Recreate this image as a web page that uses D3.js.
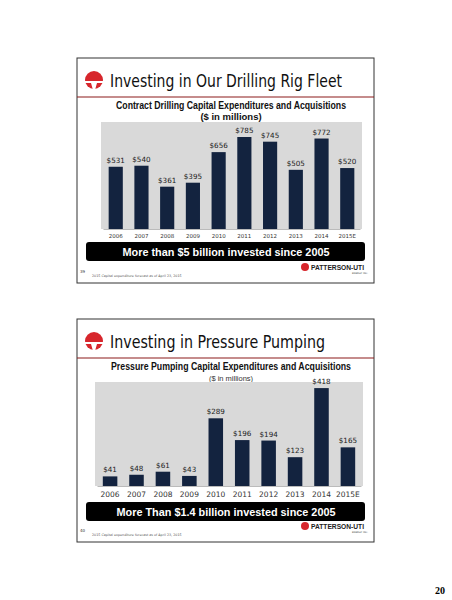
<!DOCTYPE html>
<html><head><meta charset="utf-8">
<script src="https://cdn.jsdelivr.net/npm/d3@7"></script>
<style>body{margin:0;background:#fff}</style>
</head><body>
<svg id="page" width="452" height="600"></svg>
<script>
const years = ['2006','2007','2008','2009','2010','2011','2012','2013','2014','2015E'];
const drillingValues = [531, 540, 361, 395, 656, 785, 745, 505, 772, 520];
const pumpingValues = [41, 48, 61, 43, 289, 196, 194, 123, 418, 165];

const svg = d3.select('#page');
const navy = '#13233f';

function fit(sel, len) {
    return sel.attr('textLength', len).attr('lengthAdjust', 'spacingAndGlyphs');
}

function slide(cfg) {
    const g = svg.append('g');
    g.append('rect').attr('x', 77).attr('y', cfg.top).attr('width', 297).attr('height', cfg.h)
        .attr('fill', '#fff').attr('stroke', '#333').attr('stroke-width', 1);
    // logo
    const lx = 94, ly = cfg.top + 22;
    g.append('circle').attr('cx', lx).attr('cy', ly).attr('r', 9).attr('fill', '#d7262c');
    g.append('path').attr('d', `M${lx-9},${ly+1}h18v2h-6l-2,7h-2l-2,-7h-6z`).attr('fill', '#fff');
    fit(g.append('text').attr('x', 110).attr('y', ly + 7).attr('font-family', 'DejaVu Sans Condensed, sans-serif')
        .attr('font-size', 18).attr('fill', '#111').text(cfg.title), cfg.titleLen);
    g.append('line').attr('x1', 77).attr('x2', 374).attr('y1', cfg.top + 39).attr('y2', cfg.top + 39)
        .attr('stroke', '#8b1a1a').attr('stroke-width', 1.2);
    fit(g.append('text').attr('x', 231).attr('y', cfg.top + 51).attr('text-anchor', 'middle')
        .attr('font-family', 'Liberation Sans, sans-serif').attr('font-weight', 'bold')
        .attr('font-size', 10).attr('fill', '#111').text(cfg.chartTitle), cfg.chartLen);
    g.append('text').attr('x', 231).attr('y', cfg.top + 62).attr('text-anchor', 'middle')
        .attr('font-family', 'Liberation Sans, sans-serif').attr('font-weight', cfg.subBold ? 'bold' : 'normal')
        .attr('font-size', cfg.subBold ? 9.5 : 7.5).attr('fill', cfg.subBold ? '#111' : '#333').text('($ in millions)');

    const p = cfg.plot;
    g.append('rect').attr('x', p.x0).attr('y', p.y0).attr('width', p.x1 - p.x0).attr('height', p.y1 - p.y0)
        .attr('fill', '#d9d9d9');
    const x = d3.scaleBand().domain(years).range([p.x0 + 2, p.x1 - 2]).paddingInner(0.45).paddingOuter(0.22);
    const y = d3.scaleLinear().domain([0, cfg.ymax]).range([p.y1, p.y0]);
    const data = years.map((yr, i) => ({yr, v: cfg.values[i]}));
    g.selectAll('.bar').data(data).join('rect')
        .attr('x', d => x(d.yr)).attr('width', x.bandwidth())
        .attr('y', d => y(d.v)).attr('height', d => y(0) - y(d.v)).attr('fill', navy);
    g.selectAll('.lbl').data(data).join('text')
        .attr('x', d => x(d.yr) + x.bandwidth() / 2).attr('y', d => y(d.v) - 4)
        .attr('text-anchor', 'middle').attr('font-family', 'DejaVu Sans, sans-serif')
        .attr('font-size', 7.2).attr('fill', '#222').text(d => '$' + d.v);
    const ax = g.append('g').attr('transform', `translate(0,${p.y1})`)
        .call(d3.axisBottom(x).tickSize(0).tickPadding(cfg.tickPad));
    ax.select('.domain').attr('stroke', '#bbb');
    ax.selectAll('text').attr('font-family', 'DejaVu Sans, sans-serif').attr('font-size', cfg.tickSize).attr('fill', '#333');

    const b = cfg.banner;
    g.append('rect').attr('x', 86).attr('y', b).attr('width', 279).attr('height', 19).attr('rx', 3).attr('fill', '#000');
    fit(g.append('text').attr('x', 226).attr('y', b + 14).attr('text-anchor', 'middle')
        .attr('font-family', 'Liberation Sans, sans-serif').attr('font-weight', 'bold')
        .attr('font-size', 11.5).attr('fill', '#fff').text(cfg.bannerText), cfg.bannerLen);

    const f = cfg.top + cfg.h;
    g.append('text').attr('x', 80).attr('y', f - 10).attr('font-family', 'DejaVu Sans, sans-serif')
        .attr('font-size', 4).attr('fill', '#333').text(cfg.num);
    g.append('text').attr('x', 92).attr('y', f - 6).attr('font-family', 'DejaVu Sans, sans-serif')
        .attr('font-size', 3.3).attr('fill', '#555').text('2015 Capital expenditure forecast as of April 23, 2015');
    g.append('circle').attr('cx', 305).attr('cy', f - 16).attr('r', 4).attr('fill', '#d7262c');
    fit(g.append('text').attr('x', 311).attr('y', f - 13).attr('font-family', 'Liberation Sans, sans-serif')
        .attr('font-weight', 'bold').attr('font-size', 8).attr('fill', '#222').text('PATTERSON-UTI'), 53);
    g.append('text').attr('x', 352).attr('y', f - 9).attr('font-family', 'DejaVu Sans, sans-serif')
        .attr('font-size', 2.5).attr('fill', '#444').text('ENERGY INC.');
}

slide({top: 58, h: 225, title: 'Investing in Our Drilling Rig Fleet', titleLen: 232,
    chartTitle: 'Contract Drilling Capital Expenditures and Acquisitions', chartLen: 230, subBold: true,
    plot: {x0: 101, x1: 362, y0: 122, y1: 229}, ymax: 913, values: drillingValues,
    tickPad: 5, tickSize: 5.5, banner: 242, bannerLen: 207,
    bannerText: 'More than $5 billion invested since 2005', num: '39'});

slide({top: 319, h: 223, title: 'Investing in Pressure Pumping', titleLen: 215,
    chartTitle: 'Pressure Pumping Capital Expenditures and Acquisitions', chartLen: 240, subBold: false,
    plot: {x0: 95, x1: 363, y0: 382, y1: 486}, ymax: 444, values: pumpingValues,
    tickPad: 6, tickSize: 7.5, banner: 502, bannerLen: 219,
    bannerText: 'More Than $1.4 billion invested since 2005', num: '40'});

svg.append('text').attr('x', 440).attr('y', 594).attr('text-anchor', 'middle')
    .attr('font-family', 'Liberation Serif, serif').attr('font-weight', 'bold').attr('font-size', 10).text('20');
</script>
</body></html>
